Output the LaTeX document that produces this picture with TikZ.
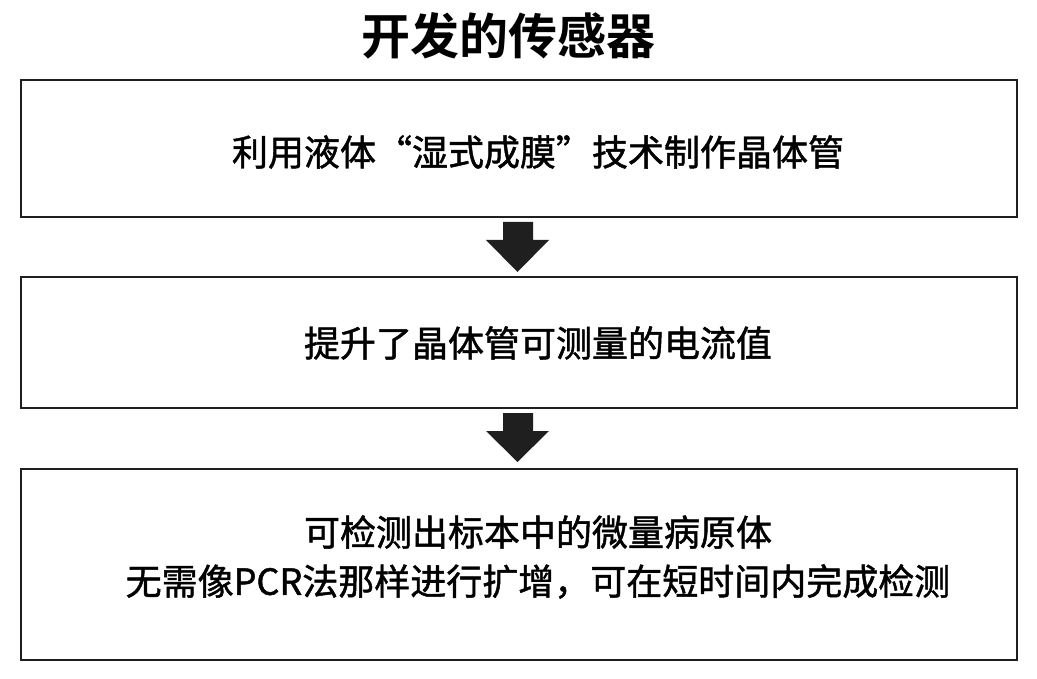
\documentclass[tikz,border=0pt]{standalone}
\usepackage{fontspec}
\newfontfamily\cjk[FakeBold=1.3]{Noto Sans CJK SC}
\newfontfamily\cjkbold{Noto Sans CJK SC Bold}
\begin{document}
\begin{tikzpicture}[x=1pt,y=-1pt,
  box/.style={draw=black!88, line width=2pt, fill=white, inner sep=0pt},
  txt/.style={font=\cjk\fontsize{36}{49}\selectfont, align=center, inner sep=0pt},
  downarrow/.style={fill=black!88, draw=none}]
\useasboundingbox[fill=white] (0,0) rectangle (1037,679);
\node[font=\cjkbold\fontsize{49}{54}\selectfont, inner sep=0pt] (title) at (508,36) {开发的传感器};
\node[box, minimum width=996pt, minimum height=137pt] (b1) at (519,148.5) {};
\node[box, minimum width=996pt, minimum height=130pt] (b2) at (519,342.5) {};
\node[box, minimum width=996pt, minimum height=191pt] (b3) at (519,564) {};
\node[txt] (t1) at (538,152) {利用液体“湿式成膜”技术制作晶体管};
\node[txt] (t2) at (538,343) {提升了晶体管可测量的电流值};
\node[txt] (t3) at (538,557) {可检测出标本中的微量病原体\\无需像PCR法那样进行扩增，可在短时间内完成检测};
\fill[downarrow] (503,222) -- (533,222) -- (533,240) -- (549,240) -- (517.5,272) -- (486,240) -- (503,240) -- cycle;
\fill[downarrow] (503,413) -- (533,413) -- (533,431) -- (549,431) -- (517.5,462) -- (486,431) -- (503,431) -- cycle;
\end{tikzpicture}
\end{document}
